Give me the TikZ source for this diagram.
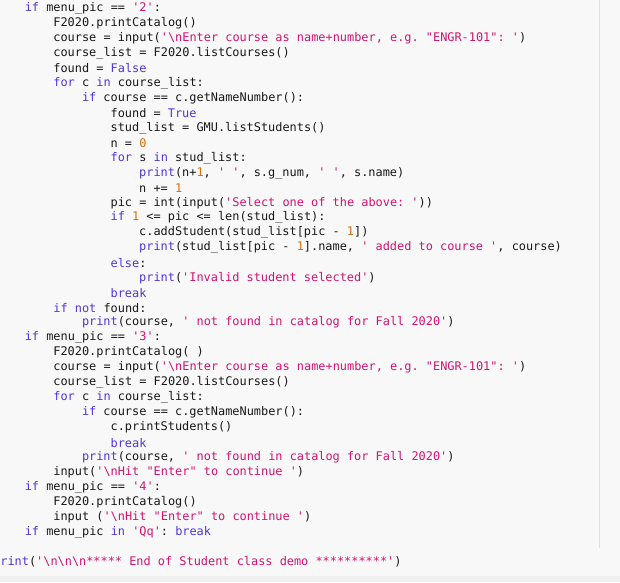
\documentclass[tikz,border=0pt]{standalone}
\usepackage{fontspec}
\setmonofont{DejaVu Sans Mono}
\definecolor{kwc}{HTML}{5236D6}
\definecolor{stc}{HTML}{D01470}
\definecolor{nmc}{HTML}{D87010}
\definecolor{bgc}{HTML}{F8F8F8}
\newcommand\Kw[1]{\textcolor{kwc}{#1}}
\newcommand\Str[1]{\textcolor{stc}{#1}}
\newcommand\Num[1]{\textcolor{nmc}{#1}}
\newcommand\BS{\textbackslash}
\begin{document}
\begin{tikzpicture}[x=1pt,y=-1pt,
  code/.style={anchor=west,inner sep=0pt,font=\fontsize{11.9}{14}\ttfamily,text=black!90}]
\fill[bgc] (0,0) rectangle (620,582);
\fill[black!6] (0,576) rectangle (620,582);
\draw[black!12] (599,0) -- (599,548);
\useasboundingbox (0,0) rectangle (620,582);
\def\La{-4}\def\Lb{24.6}\def\Lc{53.2}\def\Ld{81.8}\def\Le{110.4}\def\Lf{139}
\node[code] (l1) at (\Lb,8) {\Kw{if} menu\_pic == \Str{'2'}:};
\node[code] (l2) at (\Lc,23) {F2020.printCatalog()};
\node[code] (l3) at (\Lc,38) {course = input(\Str{'\BS nEnter course as name+number, e.g. "ENGR-101": '})};
\node[code] (l4) at (\Lc,53) {course\_list = F2020.listCourses()};
\node[code] (l5) at (\Lc,68) {found = \Kw{False}};
\node[code] (l6) at (\Lc,83) {\Kw{for} c \Kw{in} course\_list:};
\node[code] (l7) at (\Ld,98) {\Kw{if} course == c.getNameNumber():};
\node[code] (l8) at (\Le,113) {found = \Kw{True}};
\node[code] (l9) at (\Le,128) {stud\_list = GMU.listStudents()};
\node[code] (l10) at (\Le,143) {n = \Num{0}};
\node[code] (l11) at (\Le,158) {\Kw{for} s \Kw{in} stud\_list:};
\node[code] (l12) at (\Lf,173) {\Kw{print}(n+\Num{1}, \Str{' '}, s.g\_num, \Str{' '}, s.name)};
\node[code] (l13) at (\Lf,187.5) {n += \Num{1}};
\node[code] (l14) at (\Le,202.5) {pic = int(input(\Str{'Select one of the above: '}))};
\node[code] (l15) at (\Le,217.5) {\Kw{if} \Num{1} <= pic <= len(stud\_list):};
\node[code] (l16) at (\Lf,232.5) {c.addStudent(stud\_list[pic - \Num{1}])};
\node[code] (l17) at (\Lf,247.5) {\Kw{print}(stud\_list[pic - \Num{1}].name, \Str{' added to course '}, course)};
\node[code] (l18) at (\Le,262.5) {\Kw{else}:};
\node[code] (l19) at (\Lf,277.5) {\Kw{print}(\Str{'Invalid student selected'})};
\node[code] (l20) at (\Le,292.5) {\Kw{break}};
\node[code] (l21) at (\Lc,307.5) {\Kw{if} \Kw{not} found:};
\node[code] (l22) at (\Ld,322.5) {\Kw{print}(course, \Str{' not found in catalog for Fall 2020'})};
\node[code] (l23) at (\Lb,337.5) {\Kw{if} menu\_pic == \Str{'3'}:};
\node[code] (l24) at (\Lc,352.5) {F2020.printCatalog( )};
\node[code] (l25) at (\Lc,367.5) {course = input(\Str{'\BS nEnter course as name+number, e.g. "ENGR-101": '})};
\node[code] (l26) at (\Lc,382.5) {course\_list = F2020.listCourses()};
\node[code] (l27) at (\Lc,397.5) {\Kw{for} c \Kw{in} course\_list:};
\node[code] (l28) at (\Ld,412.5) {\Kw{if} course == c.getNameNumber():};
\node[code] (l29) at (\Le,427.5) {c.printStudents()};
\node[code] (l30) at (\Le,442.5) {\Kw{break}};
\node[code] (l31) at (\Ld,457.5) {\Kw{print}(course, \Str{' not found in catalog for Fall 2020'})};
\node[code] (l32) at (\Lc,472.5) {input(\Str{'\BS nHit "Enter" to continue '})};
\node[code] (l33) at (\Lb,487.5) {\Kw{if} menu\_pic == \Str{'4'}:};
\node[code] (l34) at (\Lc,502.5) {F2020.printCatalog()};
\node[code] (l35) at (\Lc,517.5) {input (\Str{'\BS nHit "Enter" to continue '})};
\node[code] (l36) at (\Lb,532.5) {\Kw{if} menu\_pic \Kw{in} \Str{'Qq'}: \Kw{break}};
\node[code] (l37) at (-7,562) {\Kw{print}(\Str{'\BS n\BS n\BS n***** End of Student class demo **********'})};
\end{tikzpicture}
\end{document}
